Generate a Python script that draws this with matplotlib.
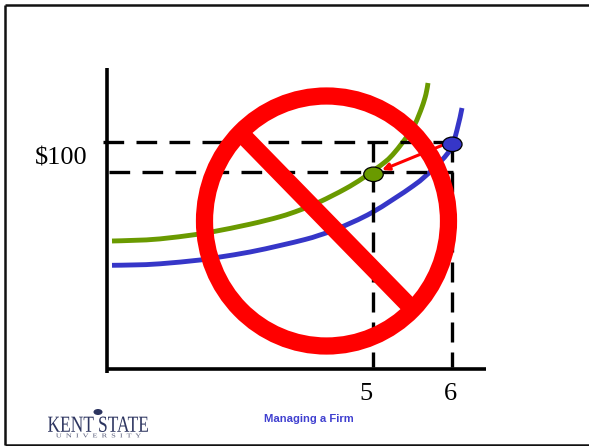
import matplotlib
matplotlib.use("Agg")
import matplotlib.pyplot as plt
from matplotlib.patches import Ellipse, PathPatch
from matplotlib.path import Path
from matplotlib.textpath import TextPath
from matplotlib.font_manager import FontProperties
from matplotlib.transforms import Affine2D

# Positions, in image pixels
green_x = [112, 135, 160, 196, 213, 250, 280, 300, 320, 345, 363, 385, 395, 407, 415, 422, 426, 428]
green_y = [241, 240.3, 238.9, 234.5, 231.7, 224.2, 216.7, 210, 201.7, 189, 178, 162, 152, 136.5, 124, 107, 94, 83]
blue_x = [112, 135, 160, 200, 220, 250, 280, 305, 319, 338, 372, 413, 433, 450, 457, 462]
blue_y = [265.3, 264.9, 263.8, 260, 257, 252, 245.5, 239.5, 235.3, 228.5, 212.5, 186, 169, 150, 130, 108]
price_levels = [142.3, 172]
price_starts = [103, 109]
quantity_positions = [373, 452]
quantity_labels = ["5", "6"]
points_x = [373.5, 452.3]
points_y = [174.3, 144.3]
price_label = "$100"
footer = "Managing a Firm"

GREEN = "#6a9a00"
BLUE = "#3636c8"
RED = "#ff0000"
NAVY = "#2d3560"


def smooth_path(xs, ys):
    """Catmull-Rom curve through the read points, as cubic Bezier segments."""
    pts = list(zip(xs, ys))
    verts = [pts[0]]
    codes = [Path.MOVETO]
    for i in range(len(pts) - 1):
        p0 = pts[max(i - 1, 0)]
        p1 = pts[i]
        p2 = pts[i + 1]
        p3 = pts[min(i + 2, len(pts) - 1)]
        c1 = (p1[0] + (p2[0] - p0[0]) / 6, p1[1] + (p2[1] - p0[1]) / 6)
        c2 = (p2[0] - (p3[0] - p1[0]) / 6, p2[1] - (p3[1] - p1[1]) / 6)
        verts += [c1, c2, p2]
        codes += [Path.CURVE4] * 3
    return Path(verts, codes)


def fitted_text(ax, s, x0, x1, y_base, height, **kw):
    prop = FontProperties(family="Liberation Serif", **kw.pop("font", {}))
    tp = TextPath((0, 0), s, size=10, prop=prop)
    box = tp.get_extents()
    tr = (Affine2D().translate(-box.x0, -box.y0)
          .scale((x1 - x0) / box.width, -height / box.height)
          .translate(x0, y_base))
    ax.add_patch(PathPatch(tr.transform_path(tp), zorder=8, lw=0, **kw))


fig = plt.figure(figsize=(5.89, 4.46), dpi=100, facecolor="white")
ax = fig.add_axes([0, 0, 1, 1])
ax.set_xlim(0, 589)
ax.set_ylim(446, 0)
ax.axis("off")

# slide frame
ax.plot([5, 5], [5.3, 445], color="#111111", lw=1.8, solid_capstyle="butt")
ax.plot([5, 589], [5.3, 5.3], color="#111111", lw=1.8, solid_capstyle="butt")
ax.plot([5, 589], [445, 445], color="#111111", lw=1.8, solid_capstyle="butt")

# curves
ax.add_patch(PathPatch(smooth_path(green_x, green_y), fill=False, edgecolor=GREEN, lw=3.5, capstyle="butt", zorder=2))
ax.add_patch(PathPatch(smooth_path(blue_x, blue_y), fill=False, edgecolor=BLUE, lw=3.5, capstyle="butt", zorder=2))

# guide lines
for y, x0 in zip(price_levels, price_starts):
    ax.plot([x0, 453], [y, y], color="black", lw=2.4, linestyle=(0, (6.2, 3.7)), dash_capstyle="butt", zorder=3)
for x in quantity_positions:
    ax.plot([x, x], [142.3, 367], color="black", lw=2.4, linestyle=(0, (6.0, 3.0)), dash_capstyle="butt", zorder=3)

# axes
ax.plot([107.4, 107.4], [68, 373], color="black", lw=2.6, solid_capstyle="butt", zorder=4)
ax.plot([106, 486], [369, 369], color="black", lw=2.6, solid_capstyle="butt", zorder=4)

# arrow between the points
ax.annotate("", xy=(382, 170), xytext=(443, 145),
            arrowprops=dict(arrowstyle="-|>", color=RED, lw=2.2, mutation_scale=10, shrinkA=0, shrinkB=0), zorder=5)

# points
for x, y, c in zip(points_x, points_y, [GREEN, BLUE]):
    ax.add_patch(Ellipse((x, y), 19.5, 14.5, facecolor=c, edgecolor="black", lw=0.9, zorder=6))

# prohibition sign
ax.add_patch(Ellipse((326.5, 221), 244, 250, facecolor="none", edgecolor=RED, lw=12.4, zorder=7))
ax.plot([245.5, 407.5], [138, 304], color=RED, lw=12.4, solid_capstyle="butt", zorder=7)

# text
serif = "Liberation Serif"
ax.text(61, 158, price_label, family=serif, fontsize=19, color="black", ha="center", va="center", zorder=8)
ax.text(366, 394, quantity_labels[0], family=serif, fontsize=19, color="black", ha="center", va="center", zorder=8)
ax.text(450, 394, quantity_labels[1], family=serif, fontsize=19, color="black", ha="center", va="center", zorder=8)
ax.text(308.5, 419, footer, family="Liberation Sans", fontweight="bold", fontsize=8.1, color="#4040d0", ha="center", va="center", zorder=8)

# logo wordmark
fitted_text(ax, "KENT STATE", 48, 148, 432, 15.5, facecolor=NAVY)
fitted_text(ax, "U  N  I  V  E  R  S  I  T  Y", 56, 141, 437.5, 4, facecolor="#555a78")
ax.add_patch(Ellipse((98, 412), 9, 6, facecolor=NAVY, edgecolor="none", zorder=8))

fig.savefig("out.png", dpi=100, facecolor="white")
